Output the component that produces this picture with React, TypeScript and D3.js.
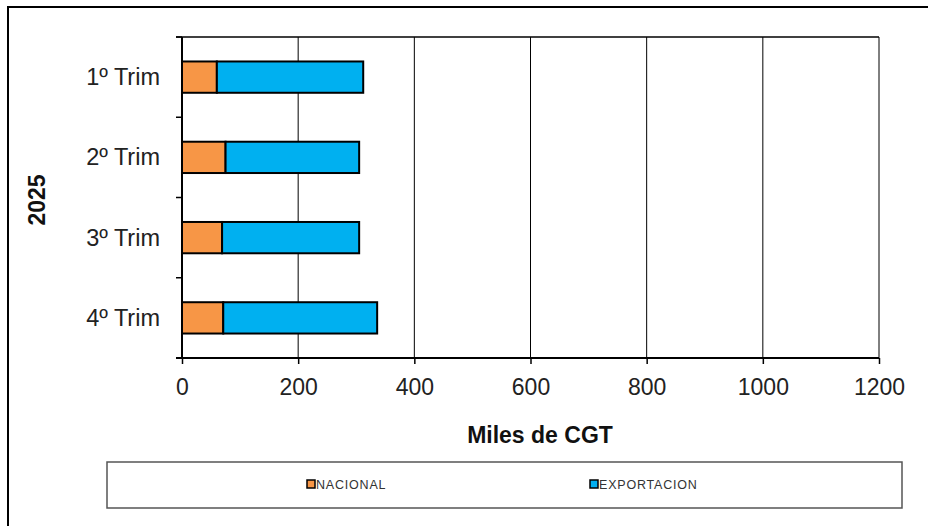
import { useRef, useEffect } from 'react'
import * as d3 from 'd3'

const quarters = ['1º Trim', '2º Trim', '3º Trim', '4º Trim']
const nacional = [60, 75, 69, 71]
const exportacion = [252, 230, 236, 265]
const xTicks = [0, 200, 400, 600, 800, 1000, 1200]
const seriesNames = ['NACIONAL', 'EXPORTACION']
const seriesColors = ['#F79646', '#00B0F0']

export default function App() {
  const svgRef = useRef<SVGSVGElement>(null)

  useEffect(() => {
    if (!svgRef.current) return
    const svg = d3.select(svgRef.current)
    svg.selectAll('*').remove()

    const width = 928
    const height = 526
    const font = 'Liberation Sans, Arial, sans-serif'
    const plot = { left: 182, right: 879, top: 37, bottom: 358 }

    svg.append('rect').attr('width', width).attr('height', height).attr('fill', '#fff')

    // outer chart frame: only top and left edges are inside the picture
    svg
      .append('path')
      .attr('d', `M8,${height}V7H${width}`)
      .attr('fill', 'none')
      .attr('stroke', '#000')
      .attr('stroke-width', 2)

    const x = d3.scaleLinear().domain([0, 1200]).range([plot.left, plot.right])
    const y = d3
      .scaleBand()
      .domain(quarters)
      .range([plot.top, plot.bottom])
      .paddingInner(0.61)
      .paddingOuter(0.305)

    const g = svg.append('g')

    // vertical grid lines
    g.selectAll('.grid')
      .data(xTicks.slice(1))
      .enter()
      .append('line')
      .attr('x1', (d) => x(d))
      .attr('x2', (d) => x(d))
      .attr('y1', plot.top)
      .attr('y2', plot.bottom)
      .attr('stroke', '#000')
      .attr('stroke-width', 1)

    // top border of the plot area
    g.append('line')
      .attr('x1', plot.left - 6)
      .attr('x2', plot.right)
      .attr('y1', plot.top)
      .attr('y2', plot.top)
      .attr('stroke', '#000')
      .attr('stroke-width', 1.5)

    // stacked bars
    const stacks = quarters.map((q, i) => {
      const vals = [nacional[i], exportacion[i]]
      let acc = 0
      return vals.map((v, s) => {
        const seg = { q, s, x0: acc, x1: acc + v }
        acc += v
        return seg
      })
    })

    stacks.flat().forEach((d) => {
      g.append('rect')
        .attr('x', x(d.x0))
        .attr('y', y(d.q)!)
        .attr('width', x(d.x1) - x(d.x0))
        .attr('height', y.bandwidth())
        .attr('fill', seriesColors[d.s])
        .attr('stroke', '#000')
        .attr('stroke-width', 2)
    })

    // y axis
    const bandStep = (plot.bottom - plot.top) / quarters.length
    const yAxis = g.append('g')
    yAxis
      .append('line')
      .attr('x1', plot.left)
      .attr('x2', plot.left)
      .attr('y1', plot.top)
      .attr('y2', plot.bottom)
      .attr('stroke', '#000')
      .attr('stroke-width', 2)
    d3.range(quarters.length + 1).forEach((i) => {
      yAxis
        .append('line')
        .attr('x1', plot.left - 6)
        .attr('x2', plot.left)
        .attr('y1', plot.top + i * bandStep)
        .attr('y2', plot.top + i * bandStep)
        .attr('stroke', '#000')
        .attr('stroke-width', 1.5)
    })
    quarters.forEach((q) => {
      yAxis
        .append('text')
        .attr('x', 160)
        .attr('y', y(q)! + y.bandwidth() / 2 + 8)
        .attr('text-anchor', 'end')
        .attr('font-family', font)
        .attr('font-size', 23.5)
        .attr('fill', '#222')
        .text(q)
    })

    // x axis
    const xAxis = g
      .append('g')
      .attr('transform', `translate(0,${plot.bottom})`)
      .call(
        d3
          .axisBottom(x)
          .tickValues(xTicks)
          .tickFormat(d3.format('d'))
          .tickSize(6)
          .tickSizeOuter(0),
      )
    xAxis.select('.domain').attr('stroke-width', 2).attr('d', `M${plot.left - 6},0H${plot.right}`)
    xAxis.selectAll('line').attr('stroke-width', 1.5)
    xAxis
      .selectAll('text')
      .attr('y', 37)
      .attr('dy', null)
      .attr('font-family', font)
      .attr('font-size', 23)
      .attr('fill', '#222')

    // axis titles
    svg
      .append('text')
      .attr('x', 540)
      .attr('y', 443)
      .attr('text-anchor', 'middle')
      .attr('font-family', font)
      .attr('font-size', 23)
      .attr('font-weight', 'bold')
      .attr('fill', '#111')
      .text('Miles de CGT')

    svg
      .append('text')
      .attr('transform', `translate(45,200) rotate(-90)`)
      .attr('text-anchor', 'middle')
      .attr('font-family', font)
      .attr('font-size', 23)
      .attr('font-weight', 'bold')
      .attr('fill', '#111')
      .text('2025')

    // legend
    svg
      .append('rect')
      .attr('x', 107)
      .attr('y', 462)
      .attr('width', 795)
      .attr('height', 46)
      .attr('fill', '#fff')
      .attr('stroke', '#555')
      .attr('stroke-width', 1.5)

    const legendX = [307, 590]
    seriesNames.forEach((name, i) => {
      svg
        .append('rect')
        .attr('x', legendX[i])
        .attr('y', 480)
        .attr('width', 8)
        .attr('height', 8)
        .attr('fill', seriesColors[i])
        .attr('stroke', '#000')
        .attr('stroke-width', 1.5)
      svg
        .append('text')
        .attr('x', legendX[i] + 9)
        .attr('y', 489)
        .attr('font-family', font)
        .attr('font-size', 12.5)
        .attr('letter-spacing', 0.8)
        .attr('fill', '#333')
        .text(name)
    })
  }, [])

  return (
    <svg
      ref={svgRef}
      width={928}
      height={526}
      style={{ display: 'block', position: 'absolute', left: 0, top: 0 }}
    />
  )
}
